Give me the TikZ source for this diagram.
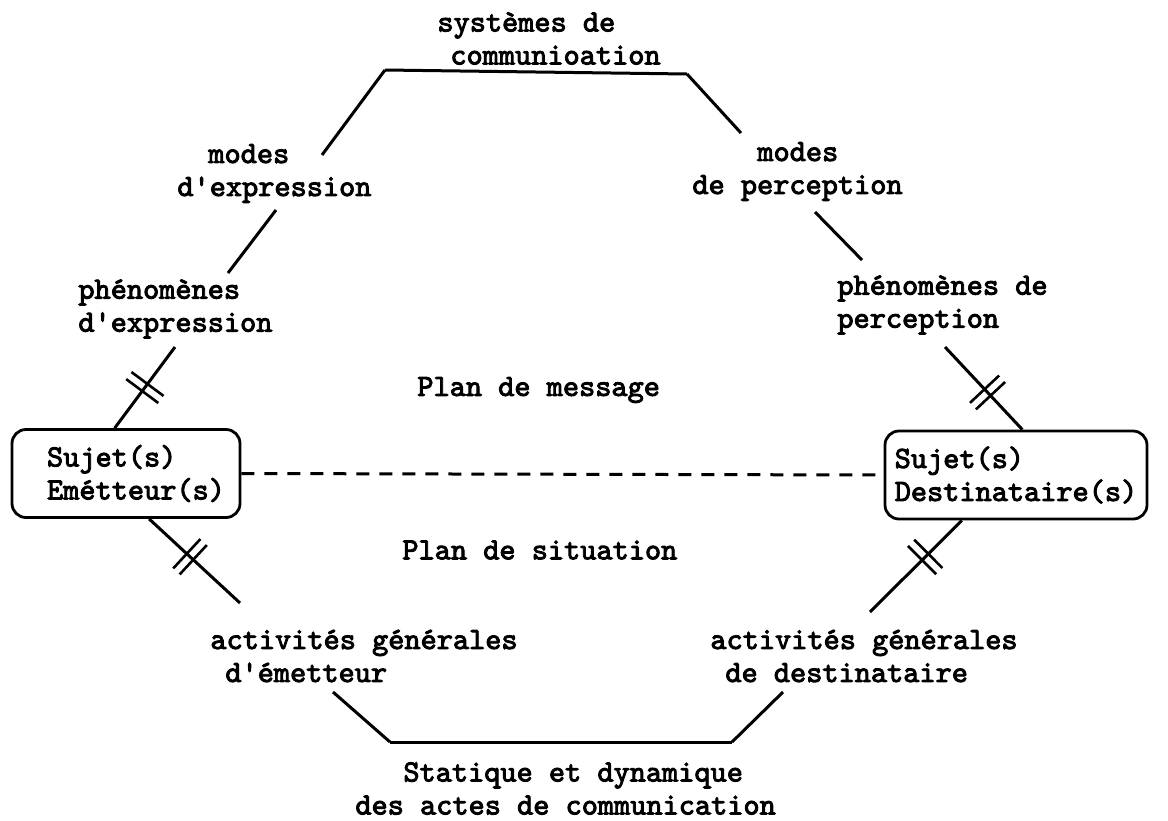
\documentclass[tikz,border=0pt]{standalone}
\usepackage{fontspec}
\newfontfamily\typew{lmmono10-regular}[Extension=.otf, FakeBold=3]
\usetikzlibrary{decorations.markings}
\newcommand\ap{\textquotesingle}

\begin{document}
\begin{tikzpicture}[
  x=0.5pt, y=-0.5pt,
  font=\typew\fontsize{15.4}{16.5}\selectfont,
  lbl/.style={anchor=west, align=left, inner sep=0pt},
  subj/.style={draw, line width=1.4pt, rounded corners=7pt, align=left,
               inner sep=4pt, minimum height=44pt},
  ln/.style={line width=1.5pt},
  cut/.style={ln, postaction={decorate},
              decoration={markings, mark=at position #1 with
                {\draw[line width=1.3pt] (-2.2pt,-10pt) -- (-2.2pt,10pt)
                                         (2.2pt,-10pt) -- (2.2pt,10pt);}}}
]
\useasboundingbox (0,0) rectangle (1168,820);

\node[lbl] (sys)  at (437,38.5) {systèmes de\\\hspace*{6.5pt}communioation};
\node[lbl] (mexp) at (177,173.5) {\hspace*{15.5pt}modes\\d\ap expression};
\node[lbl] (mper) at (692,171.5) {\hspace*{32.5pt}modes\\de perception};
\node[lbl] (pexp) at (78,309)   {phénomènes\\d\ap expression};
\node[lbl] (pper) at (837,305)  {phénomènes de\\perception};
\node[lbl] (plm)  at (417,390)  {Plan de message};
\node[lbl] (pls)  at (402,550)  {Plan de situation};
\node[lbl] (age)  at (210,656)  {activités générales\\\hspace*{7.5pt}d\ap émetteur};
\node[lbl] (agd)  at (710,656)  {activités générales\\\hspace*{7.5pt}de destinataire};
\node[lbl] (stat) at (355,788.5) {\hspace*{24pt}Statique et dynamique\\des actes de communication};

\node[subj, minimum width=114pt] (em)   at (126,473.5)
  {\hspace*{10pt}Sujet(s)\\\hspace*{10pt}Emétteur(s)};
\node[subj, minimum width=131pt] (dest) at (1016,475)  {Sujet(s)\\Destinataire(s)};

% corners of the outline
\coordinate (tl) at (385,70);
\coordinate (tr) at (687,74);
\coordinate (bl) at (390,742);
\coordinate (br) at (732,742);
% line ends beside the labels
\coordinate (me1) at (322,155);
\coordinate (me2) at (276,210);
\coordinate (me3) at (228,273);
\coordinate (pe1) at (175,347);
\coordinate (mp1) at (741,133);
\coordinate (mp2) at (815,212);
\coordinate (mp3) at (862,260);
\coordinate (pp1) at (945,347);
\coordinate (ae1) at (240,603);
\coordinate (ae2) at (333,692);
\coordinate (ad1) at (870,612);
\coordinate (ad2) at (783,692);

\draw[ln] (tl) -- (tr);
\draw[ln] (tl) -- (me1);
\draw[ln] (tr) -- (mp1);
\draw[ln] (me2) -- (me3);
\draw[ln] (mp2) -- (mp3);
\draw[cut=0.5]  (pe1) -- (em.104);
\draw[cut=0.55] (pp1) -- (dest.82);
\draw[cut=0.45] (em.-63) -- (ae1);
\draw[cut=0.4]  (dest.220) -- (ad1);
\draw[ln] (ae2) -- (bl);
\draw[ln] (ad2) -- (br);
\draw[ln] (bl) -- (br);
\draw[ln, dash pattern=on 6.5pt off 5pt] (em.east) -- (dest.west);
\end{tikzpicture}
\end{document}
